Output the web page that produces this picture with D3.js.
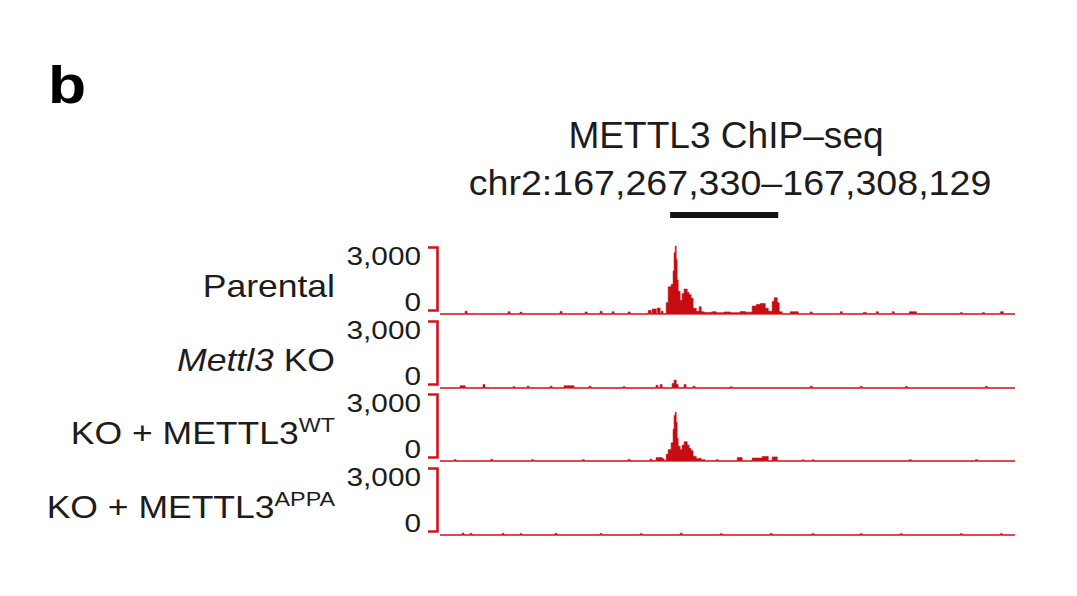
<!DOCTYPE html>
<html>
<head>
<meta charset="utf-8">
<script src="https://cdn.jsdelivr.net/npm/d3@7"></script>
<style>
	html, body { margin: 0; padding: 0; background: #fff; }
	svg { display: block; font-family: "Liberation Sans", Arial, Helvetica, sans-serif; }
</style>
</head>
<body>
<svg width="1077" height="596"></svg>
<script>
// region chr2:167,267,330-167,308,129, signal as [start, end, value] with offsets in bp
const regionStart = 167267330
const regionEnd = 167308129
const regionBar = [16330, 24000]
const yTicks = [0, 3000]

const trackNames = ['Parental', 'Mettl3 KO', 'KO + METTL3WT', 'KO + METTL3APPA']

const parental = [
	[1780, 1920, 120], [4830, 4970, 100], [5680, 5820, 80], [8520, 8660, 110],
	[10300, 10440, 90], [11360, 11500, 120], [12210, 12350, 100], [13350, 13490, 90],
	[14770, 14980, 150], [15050, 15340, 220], [15410, 15620, 260], [15690, 15830, 120],
	[16050, 16190, 500], [16190, 16400, 1200], [16400, 16540, 1300], [16540, 16610, 1900],
	[16610, 16690, 2700], [16690, 16760, 3000], [16760, 16830, 2400], [16830, 16900, 1500],
	[16900, 17040, 1000], [17040, 17180, 600], [17180, 17320, 900], [17320, 17540, 1100],
	[17540, 17680, 950], [17680, 17820, 850], [17820, 17960, 700], [17960, 18180, 250],
	[18180, 18390, 120], [18390, 18530, 320], [18530, 18740, 100], [18740, 19310, 70],
	[19310, 19600, 100], [19600, 20160, 60], [20160, 20590, 90], [20590, 21300, 60],
	[21300, 21660, 110], [21660, 22150, 80], [22150, 22440, 350], [22440, 22720, 420],
	[22720, 23080, 460], [23080, 23290, 250], [23290, 23570, 120], [23570, 23710, 550],
	[23710, 23930, 720], [23930, 24070, 500], [24070, 24280, 100], [24850, 25420, 100],
	[26270, 26410, 90], [28400, 28540, 100], [30030, 30250, 70], [30960, 31100, 100],
	[32090, 32230, 100], [33300, 33800, 100], [36920, 37060, 60], [38490, 38630, 60],
	[39760, 39970, 100]
]

const mettl3KO = [
	[1420, 1780, 100], [3050, 3190, 150], [5180, 5320, 60], [6180, 6320, 80],
	[7810, 7950, 80], [8800, 9510, 100], [10580, 10720, 80], [12990, 13130, 60],
	[15330, 15470, 120], [15620, 15760, 150], [16470, 16610, 200], [16610, 16760, 350],
	[16760, 16900, 150], [17320, 17460, 150], [17960, 18100, 80], [20590, 20730, 50],
	[26270, 26410, 80], [29820, 29960, 70], [33020, 33160, 70], [38700, 38840, 70]
]

const koWT = [
	[1000, 1140, 60], [3600, 3740, 70], [6500, 6640, 60], [10100, 10240, 60],
	[13350, 13490, 70], [14910, 15050, 80], [15330, 15760, 150], [15760, 15900, 100],
	[16050, 16190, 300], [16190, 16400, 500], [16400, 16540, 800], [16540, 16610, 1400],
	[16610, 16690, 2000], [16690, 16760, 2150], [16760, 16830, 1700], [16830, 16900, 1000],
	[16900, 17040, 650], [17040, 17180, 500], [17180, 17320, 700], [17320, 17540, 850],
	[17540, 17680, 700], [17680, 17820, 550], [17820, 17960, 450], [17960, 18180, 200],
	[18180, 18390, 100], [18390, 18530, 120], [18530, 18810, 60], [19600, 19740, 60],
	[21090, 21440, 150], [22150, 22860, 130], [22860, 23290, 200], [23570, 23930, 180],
	[25700, 25840, 50], [26410, 26550, 50], [33300, 33440, 60], [38000, 38140, 60]
]

const koAPPA = [
	[1560, 1700, 80], [2130, 2270, 70], [4400, 4540, 70], [5680, 5820, 60],
	[8160, 8300, 70], [11360, 11500, 70], [14200, 14340, 60], [17040, 17180, 80],
	[19880, 20020, 60], [23430, 23570, 70], [26410, 26550, 60], [29820, 29960, 60],
	[32660, 32800, 60], [36920, 37060, 60], [39760, 39900, 60]
]

const signals = [parental, mettl3KO, koWT, koAPPA]

const red = '#d3131d'
const fill = '#c70d14'
const ink = '#1c1c1c'
const baselines = [314, 388, 461, 535]
const trackHeight = 68

const svg = d3.select('svg')
const span = regionEnd - regionStart

let xScale = d3.scaleLinear()
	.domain([0, span])
	.range([440, 1015])

// text placed with a small horizontal stretch, like the figure
function stretched(parent, x, y, sx) {
	return parent.append('text')
		.attr('transform', `translate(${x},${y}) scale(${sx},1)`)
}

// panel letter and title
stretched(svg, 48, 103, 1.2)
	.attr('font-size', 52).attr('font-weight', 'bold')
	.attr('fill', '#000')
	.text('b')

stretched(svg, 726, 148, 1.03)
	.attr('text-anchor', 'middle')
	.attr('font-size', 36)
	.attr('fill', ink)
	.text('METTL3 ChIP\u2013seq')

stretched(svg, 730, 195, 1.045)
	.attr('text-anchor', 'middle')
	.attr('font-size', 36)
	.attr('fill', ink)
	.text('chr2:' + d3.format(',')(regionStart) + '\u2013' + d3.format(',')(regionEnd))

svg.append('line')
	.attr('x1', xScale(regionBar[0])).attr('x2', xScale(regionBar[1]))
	.attr('y1', 215).attr('y2', 215)
	.attr('stroke', '#111').attr('stroke-width', 6)

signals.forEach((segs, i) => {
	let base = baselines[i]
	let yScale = d3.scaleLinear()
		.domain([0, 3000])
		.range([base, base - trackHeight])
		.clamp(true)
	let axisScale = d3.scaleLinear()
		.domain(d3.extent(yTicks))
		.range([base - 4, base - 67])

	// step points from the bedGraph segments
	let pts = [[0, 0]]
	segs.forEach(s => {
		pts.push([s[0], s[2]])
		pts.push([s[1], 0])
	})
	pts.push([span, 0])

	let area = d3.area()
		.curve(d3.curveStepAfter)
		.x(d => xScale(d[0]))
		.y0(base)
		.y1(d => yScale(d[1]))

	let g = svg.append('g').attr('class', 'track')

	g.append('path')
		.datum(pts)
		.attr('d', area)
		.attr('fill', fill)
		.attr('stroke', fill)
		.attr('stroke-width', 0.6)

	g.append('line')
		.attr('x1', xScale(0)).attr('x2', xScale(span))
		.attr('y1', base).attr('y2', base)
		.attr('stroke', red).attr('stroke-width', 1.2)

	// bracket style y axis
	let axisG = svg.append('g')
		.attr('transform', 'translate(437, 0)')
		.call(d3.axisLeft(axisScale).tickValues([]).tickSizeOuter(9))
	axisG.select('.domain')
		.attr('stroke', red)
		.attr('stroke-width', 2.6)

	yTicks.forEach(t => {
		stretched(svg, 421, axisScale(t), 1.19)
			.attr('dy', t === 0 ? '0.05em' : '0.72em')
			.attr('text-anchor', 'end')
			.attr('font-size', 25)
			.attr('fill', ink)
			.text(d3.format(',')(t))
	})
})

// track labels
const labelX = 335
const labelStretch = 1.11
const lab = svg.append('g')
	.attr('font-size', 32)
	.attr('fill', ink)
	.attr('text-anchor', 'end')

stretched(lab, labelX, 297, labelStretch).text(trackNames[0])

let ko = stretched(lab, labelX, 371, labelStretch)
ko.append('tspan').attr('font-style', 'italic').text('Mettl3')
ko.append('tspan').text(' KO')

let wt = stretched(lab, labelX, 444, labelStretch)
wt.append('tspan').text('KO + METTL3')
wt.append('tspan').attr('font-size', 21).attr('dy', -12).text('WT')

let appa = stretched(lab, labelX, 518, labelStretch)
appa.append('tspan').text('KO + METTL3')
appa.append('tspan').attr('font-size', 21).attr('dy', -12).text('APPA')
</script>
</body>
</html>
